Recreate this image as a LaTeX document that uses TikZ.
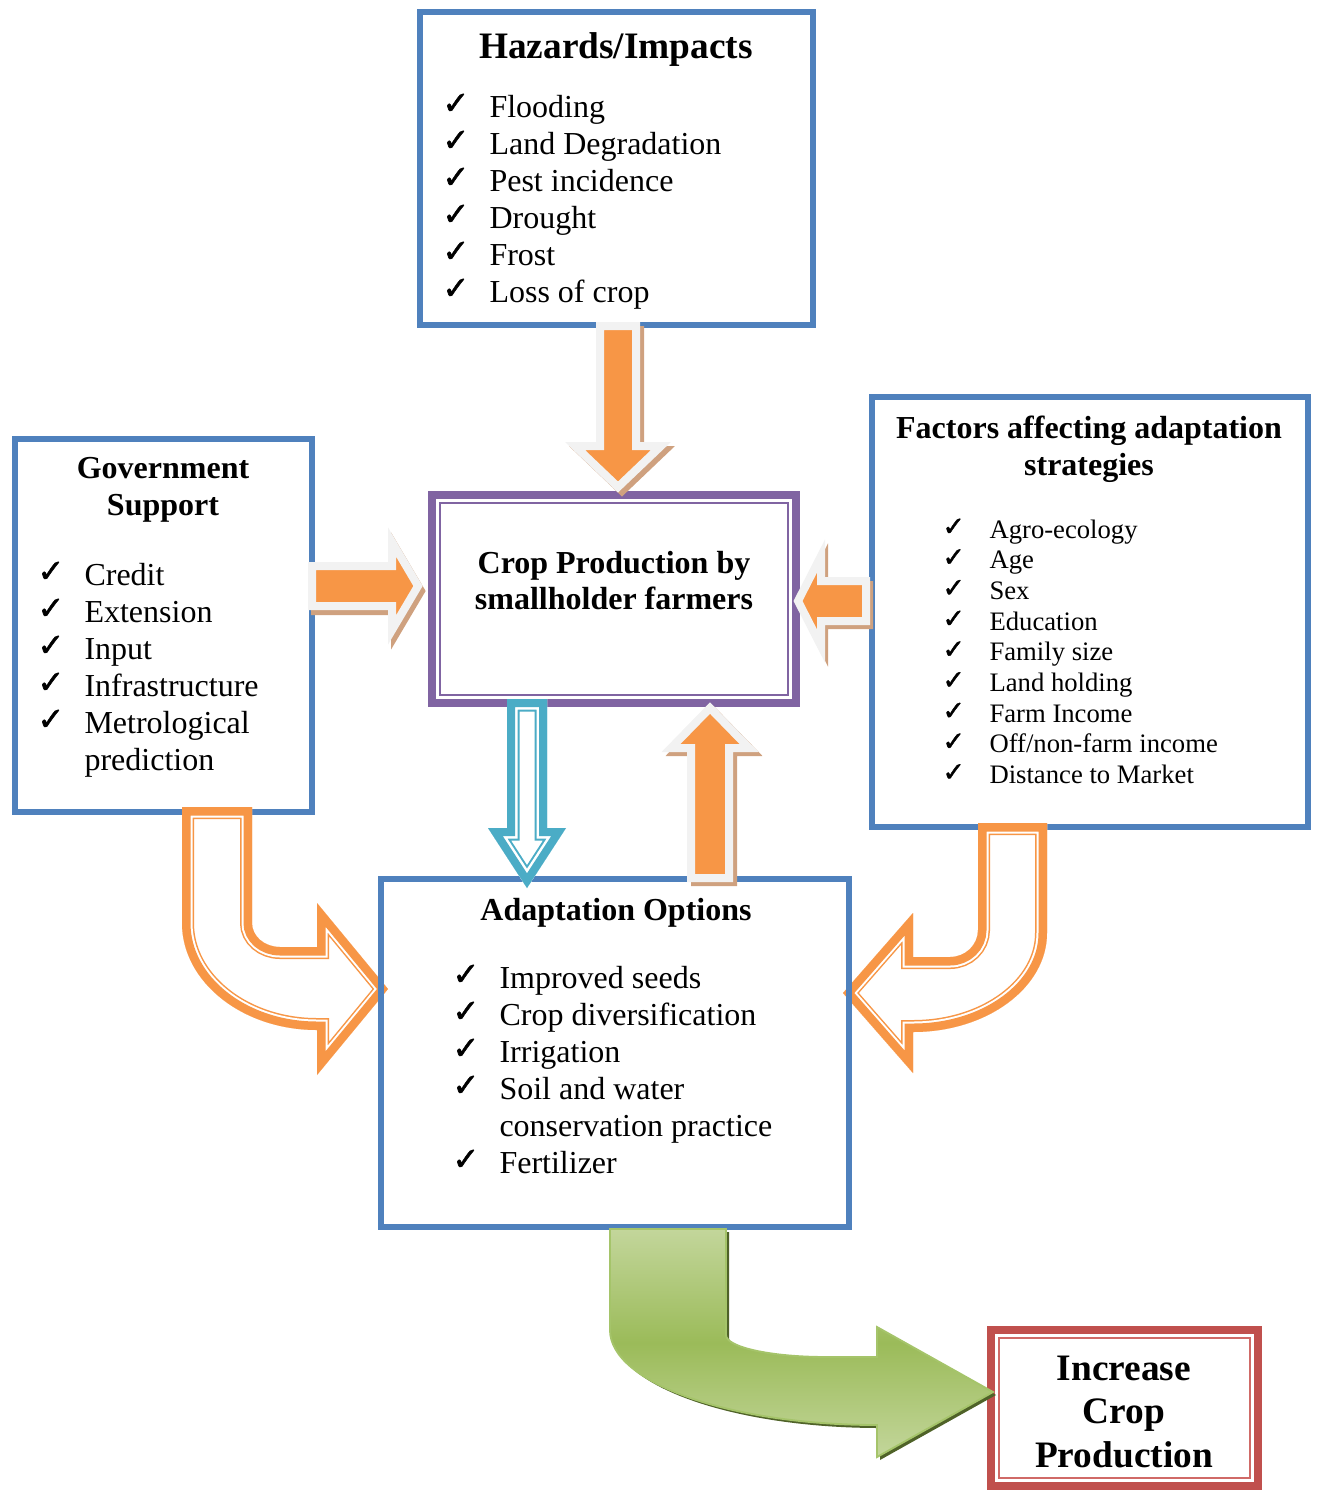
\documentclass[tikz,border=0pt]{standalone}
\usepackage{fontspec}
\setmainfont{Liberation Serif}
\newfontfamily\ckfont[FakeBold=1.6]{DejaVu Sans}
\definecolor{boxblue}{HTML}{4F81BD}
\definecolor{boxpurple}{HTML}{8064A2}
\definecolor{boxred}{HTML}{C0504D}
\definecolor{boxredlt}{HTML}{D06A67}
\definecolor{aorange}{HTML}{F79646}
\definecolor{agrey}{HTML}{F2F2F2}
\definecolor{ashadow}{HTML}{CFA17F}
\definecolor{ateal}{HTML}{4BACC6}
\definecolor{gtop}{HTML}{C3D69B}
\definecolor{gmid}{HTML}{9BBB59}
\definecolor{gbot}{HTML}{C3D69B}
\definecolor{gedge}{HTML}{A5C46A}
\definecolor{gshadow}{HTML}{4F6228}
\tikzset{
  bluebox/.style={draw=boxblue, line width=2.1pt, inner sep=0pt},
  thickframe/.style={line width=3pt, inner sep=0pt},
  thinframe/.style={line width=0.8pt, inner sep=0pt},
  item/.style={anchor=base west, inner sep=0pt, font=\fontsize{12}{14}\selectfont},
  smallitem/.style={anchor=base west, inner sep=0pt, font=\fontsize{10}{12}\selectfont},
  ck/.style={anchor=base west, inner sep=0pt, font=\ckfont\fontsize{12}{14}\selectfont},
  smallck/.style={anchor=base west, inner sep=0pt, font=\ckfont\fontsize{10}{12}\selectfont},
  ttl/.style={anchor=base, inner sep=0pt, font=\bfseries\fontsize{12}{14}\selectfont},
  bigttl/.style={anchor=base, inner sep=0pt, font=\bfseries\fontsize{14}{16}\selectfont},
  blockarrow/.style={fill=aorange, draw=agrey, line width=3pt},
  arrowshadow/.style={fill=ashadow, draw=ashadow, line width=3pt},
}
\begin{document}
\begin{tikzpicture}[x=0.375pt, y=-0.375pt, line join=miter]
\useasboundingbox (0,0) rectangle (1318,1492);

% ---------- arrow outlines ----------
\def\pAA{(600,326) -- (600,446) -- (575,446) -- (618,487) -- (661,446) -- (636,446) -- (636,326) -- cycle}
\def\pAB{(312,566) -- (392,566) -- (392,542) -- (418,586) -- (392,630) -- (392,606) -- (312,606) -- cycle}
\def\pAC{(866,581) -- (821,581) -- (821,556) -- (798,601) -- (821,646) -- (821,621) -- (866,621) -- cycle}
\def\pAD{(691,878) -- (691,748) -- (671,748) -- (710,708) -- (749,748) -- (729,748) -- (729,878) -- cycle}
\def\pBL{(507,699) -- (507,828) -- (488,828) -- (527,888) -- (566,828) -- (547,828) -- (547,699) -- cycle}
\def\pCL{(182,807) -- (182,923) .. controls (182,982) and (242.4,1030) .. (317,1030) -- (317,1075) -- (388,989) -- (317,903) -- (317,947) -- (280,947) .. controls (264.5,947) and (252,936.3) .. (252,923) -- (252,807) -- cycle}
\def\pCR{(1047,823) -- (1047,933) .. controls (1047,987.7) and (987,1032) .. (913,1032) -- (913,1073) -- (843,993) -- (913,913) -- (913,957) -- (950,957) .. controls (965.5,957) and (978,944.9) .. (978,930) -- (978,823) -- cycle}
\def\pGR{(610,1229) -- (610,1330) .. controls (610,1382.5) and (729.5,1425) .. (877,1425) -- (877,1457) -- (993,1392) -- (877,1327) -- (877,1357) -- (826,1357) .. controls (770.8,1357) and (726,1347.2) .. (726,1335) -- (726,1229) -- cycle}

% ---------- boxes ----------
\node[bluebox, minimum width=147.38pt, minimum height=117.38pt] (haz) at (616.5,168.5) {};
\node[bluebox, minimum width=111.38pt, minimum height=139.88pt] (gov) at (163.5,625.5) {};
\node[bluebox, minimum width=163.5pt, minimum height=161.25pt] (fac) at (1090,612) {};
\node[thickframe, draw=boxpurple, minimum width=136.5pt, minimum height=78pt] (crop) at (614,599) {};
\node[thinframe, draw=boxpurple, minimum width=130.5pt, minimum height=72pt] (cropin) at (614,599) {};
\node[thickframe, draw=boxred, minimum width=100.13pt, minimum height=58.5pt] (inc) at (1124.5,1408) {};
\node[thinframe, draw=boxredlt, minimum width=94.13pt, minimum height=52.5pt] (incin) at (1124.5,1408) {};

% ---------- curved orange arrows (double outline) ----------
\begin{scope}
  \clip \pCL;
  \fill[white] \pCL;
  \draw[aorange, line width=9pt] \pCL;
  \draw[white, line width=7.875pt] \pCL;
  \draw[aorange, line width=6.375pt] \pCL;
\end{scope}
\begin{scope}
  \clip \pCR;
  \fill[white] \pCR;
  \draw[aorange, line width=9pt] \pCR;
  \draw[white, line width=7.875pt] \pCR;
  \draw[aorange, line width=6.375pt] \pCR;
\end{scope}

\node[bluebox, minimum width=175.5pt, minimum height=130.5pt] (ada) at (615,1053) {};

% ---------- texts ----------
\node[bigttl] (hazt) at (616,58) {Hazards/Impacts};
\foreach \t [count=\i] in {Flooding, Land Degradation, Pest incidence, Drought, Frost, Loss of crop} {
  \node[ck] (hc\i) at (442,{114+37*(\i-1)}) {✓};
  \node[item] (ht\i) at (489,{117+37*(\i-1)}) {\t};
}

\node[ttl] (govt1) at (163,478) {Government};
\node[ttl] (govt2) at (163,515) {Support};
\foreach \t [count=\i] in {Credit, Extension, Input, Infrastructure, Metrological} {
  \node[ck] (gc\i) at (37,{582+37*(\i-1)}) {✓};
  \node[item] (gt\i) at (84,{585+37*(\i-1)}) {\t};
}
\node[item] (gt6) at (84,770) {prediction};

\node[ttl] (fact1) at (1089,438) {Factors affecting adaptation};
\node[ttl] (fact2) at (1089,475) {strategies};
\foreach \t [count=\i] in {Agro-ecology, Age, Sex, Education, Family size, Land holding, Farm Income, Off/non-farm income, Distance to Market} {
  \node[smallck] (fc\i) at (942,{535.5+30.7*(\i-1)}) {✓};
  \node[smallitem] (ft\i) at (989,{538+30.7*(\i-1)}) {\t};
}

\node[ttl] (cropt1) at (614,573) {Crop Production by};
\node[ttl] (cropt2) at (614,609) {smallholder farmers};

\node[ttl] (adat) at (616,920) {Adaptation Options};
\foreach \t [count=\i] in {Improved seeds, Crop diversification, Irrigation, Soil and water} {
  \node[ck] (ac\i) at (452,{985+37*(\i-1)}) {✓};
  \node[item] (at\i) at (499,{988+37*(\i-1)}) {\t};
}
\node[item] (at5) at (499,1136) {conservation practice};
\node[ck] (ac6) at (452,1170) {✓};
\node[item] (at6) at (499,1173) {Fertilizer};

\node[bigttl] (inct1) at (1124,1380) {Increase};
\node[bigttl] (inct2) at (1124,1423) {Crop};
\node[bigttl] (inct3) at (1124,1467) {Production};

% ---------- straight orange block arrows ----------
\filldraw[arrowshadow, shift={(4,4)}] \pAA;
\draw[blockarrow] \pAA;
\filldraw[arrowshadow, shift={(3,5)}] \pAB;
\draw[blockarrow] \pAB;
\filldraw[arrowshadow, shift={(3,4)}] \pAC;
\draw[blockarrow] \pAC;
\filldraw[arrowshadow, shift={(4,4)}] \pAD;
\draw[blockarrow] \pAD;

% ---------- teal double-outline arrow ----------
\begin{scope}
  \clip \pBL;
  \fill[white] \pBL;
  \draw[ateal, line width=9.375pt] \pBL;
  \draw[white, line width=7.875pt] \pBL;
  \draw[ateal, line width=6pt] \pBL;
\end{scope}

% ---------- green curved arrow ----------
\fill[gshadow, shift={(3,3)}] \pGR;
\shadedraw[top color=gtop, bottom color=gbot, middle color=gmid, draw=gedge, line width=0.7pt] \pGR;
\end{tikzpicture}
\end{document}
